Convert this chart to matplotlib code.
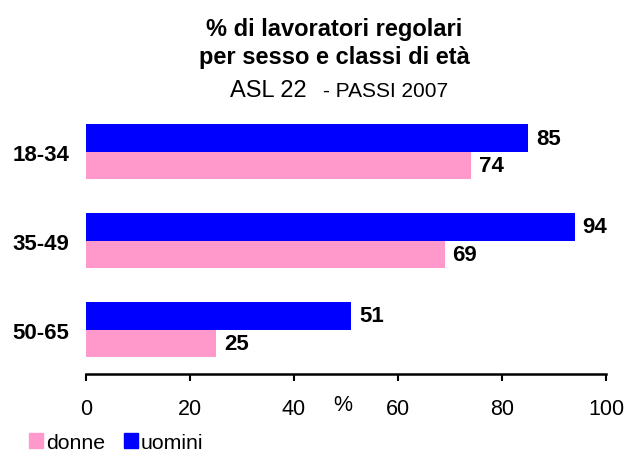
import matplotlib
matplotlib.use("Agg")
import matplotlib.pyplot as plt
import numpy as np
from matplotlib.patches import Patch

plt.rcParams['font.family'] = ['Liberation Sans', 'DejaVu Sans']

categories = ["18-34", "35-49", "50-65"]
uomini = [85, 94, 51]
donne = [74, 69, 25]
xticks = [0, 20, 40, 60, 80, 100]

c_uomini = "#0000FF"
c_donne = "#FF99CC"

fig = plt.figure(figsize=(6.26, 4.52), dpi=100)
ax = fig.add_axes([86/626, 1-375/452, 520/626, (375-108.5)/452])

y = np.arange(len(categories))
h = 0.31
ax.barh(y - h/2, uomini, height=h, color=c_uomini)
ax.barh(y + h/2, donne, height=h, color=c_donne)

for yi, v in zip(y, uomini):
    ax.text(v + 1.5, yi - h/2, str(v), va='center', ha='left', fontsize=16, fontweight='bold')
for yi, v in zip(y, donne):
    ax.text(v + 1.5, yi + h/2, str(v), va='center', ha='left', fontsize=16, fontweight='bold')

ax.set_xlim(0, 100)
ax.set_ylim(2.5, -0.5)
ax.set_xticks(xticks)
ax.set_xticklabels([str(t) for t in xticks], fontsize=15.5)
ax.tick_params(axis='x', length=5, width=1.5, pad=12, direction='out')
ax.set_yticks(y)
ax.set_yticklabels(categories, fontsize=16, fontweight='bold')
ax.tick_params(axis='y', length=0, pad=12)
for s in ['top', 'right', 'left']:
    ax.spines[s].set_visible(False)
ax.spines['bottom'].set_linewidth(1.8)

fig.text(343/626, 1-406/452, "%", ha='center', va='center', fontsize=15.5)

fig.text(334/626, 1-36/452, "% di lavoratori regolari", ha='center', va='baseline', fontsize=17, fontweight='bold')
fig.text(334/626, 1-64/452, "per sesso e classi di età", ha='center', va='baseline', fontsize=17, fontweight='bold')
fig.text(230/626, 1-97/452, "ASL 22", ha='left', va='baseline', fontsize=17)
fig.text(323/626, 1-97/452, "- PASSI 2007", ha='left', va='baseline', fontsize=15)

handles = [Patch(color=c_donne, label="donne"), Patch(color=c_uomini, label="uomini")]
fig.legend(handles=handles, loc='lower left', bbox_to_anchor=(23/626, -7/452), ncol=2, frameon=False,
           fontsize=15.3, handlelength=0.66, handleheight=0.7, handletextpad=0.15, columnspacing=0.85,
           borderaxespad=0, borderpad=0.3)

fig.savefig("out.png", dpi=100)
